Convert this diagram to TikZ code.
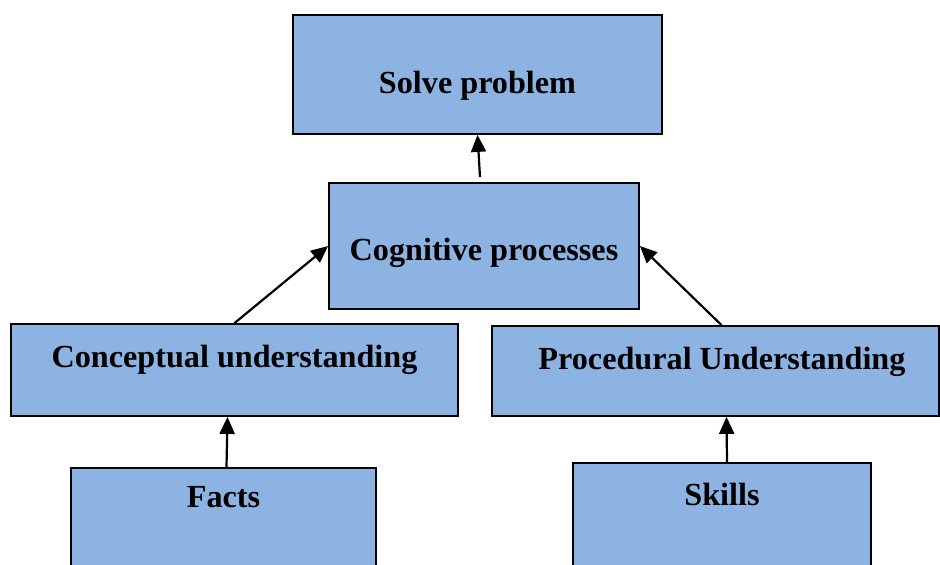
\documentclass[tikz,border=0pt]{standalone}
\usepackage{fontspec}
\setmainfont{Liberation Serif}
\usetikzlibrary{arrows.meta}
\definecolor{boxblue}{HTML}{8DB3E2}
\begin{document}
\begin{tikzpicture}[x=1pt,y=1pt,
  box/.style={draw=black,line width=1.8pt,fill=boxblue,minimum width=#1,inner sep=0pt},
  lbl/.style={anchor=base,font=\bfseries\fontsize{32.2}{36}\selectfont,inner sep=0pt},
  arr/.style={-{Triangle[length=17pt,width=15pt]},line width=2.2pt}]
\useasboundingbox (0,0) rectangle (940,565);
\clip (0,0) rectangle (940,565);
\node[box=369pt,minimum height=119pt] (solve) at (477.5,490.5) {};
\node[box=310pt,minimum height=126pt] (cog) at (484,319) {};
\node[box=447pt,minimum height=92pt] (con) at (234.5,195) {};
\node[box=447pt,minimum height=90pt] (proc) at (715.5,194) {};
\node[box=305pt,minimum height=107pt] (facts) at (223.5,43.5) {};
\node[box=298pt,minimum height=112pt] (skills) at (722,46) {};
\node[lbl] (tsolve) at (477.5,471) {Solve problem};
\node[lbl] (tcog) at (484,304) {Cognitive processes};
\node[lbl] (tcon) at (234.5,197) {Conceptual understanding};
\node[lbl] (tproc) at (722,195) {Procedural Understanding};
\node[lbl] (tfacts) at (223.5,57) {Facts};
\node[lbl] (tskills) at (722,59) {Skills};
\draw[arr] ([xshift=-4pt,yshift=5pt]cog.north) -- (solve.south);
\draw[arr] (con.north) -- (cog.west);
\draw[arr] ([xshift=6pt]proc.north) -- (cog.east);
\draw[arr] ([xshift=3pt]facts.north) -- ([xshift=-7pt]con.south);
\draw[arr] ([xshift=5pt]skills.north) -- ([xshift=11pt]proc.south);
\end{tikzpicture}
\end{document}
